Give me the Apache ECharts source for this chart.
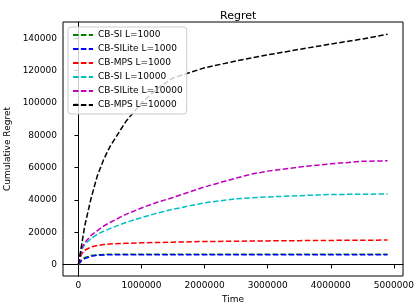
<!DOCTYPE html>
<html>
<head>
<meta charset="utf-8">
<script src="https://cdn.jsdelivr.net/npm/echarts@6/dist/echarts.min.js"></script>
<style>
    html, body {margin: 0; padding: 0; background: #fff;}
    #chart {width: 414px; height: 302px;}
</style>
</head>
<body>
<div id="chart"></div>
<script>
const seriesNames = ['CB-SI L=1000', 'CB-SILite L=1000', 'CB-MPS L=1000',
    'CB-SI L=10000', 'CB-SILite L=10000', 'CB-MPS L=10000'];
const seriesColors = ['#008000', '#0000ff', '#ff0000', '#00bfbf', '#bf00bf', '#000000'];

// time steps
const times = [0, 50000, 100000, 200000, 300000, 400000, 500000, 750000, 1000000, 1250000,
    1500000, 2000000, 2500000, 2750000, 3000000, 3500000, 4000000, 4500000, 4900000];

const siL1000 = [0, 3000, 4300, 5500, 6000, 6200, 6300, 6300, 6300, 6300,
    6300, 6300, 6300, 6300, 6300, 6300, 6300, 6300, 6300];
const siLiteL1000 = [0, 2500, 3600, 5000, 5700, 5900, 6000, 6000, 6000, 6000,
    6000, 6000, 6000, 6000, 6000, 6000, 6000, 6000, 6000];
const mpsL1000 = [0, 6500, 8800, 10800, 11700, 12300, 12700, 13100, 13400, 13600,
    13800, 14200, 14400, 14500, 14600, 14750, 14900, 15000, 15100];
const siL10000 = [0, 9000, 12500, 16000, 18700, 20600, 22200, 26000, 29000, 31800,
    34200, 38200, 40700, 41300, 41800, 42600, 43300, 43500, 43600];
const siLiteL10000 = [0, 10000, 13500, 18000, 21000, 23800, 26000, 31000, 35000, 38500,
    41500, 48000, 53500, 56000, 57800, 60300, 62300, 63900, 64200];
const mpsL10000 = [0, 12000, 24000, 41000, 55000, 65000, 73000, 88500, 100000, 109000,
    115500, 121800, 126000, 128000, 129800, 133200, 136500, 139600, 142600];

const allValues = [siL1000, siLiteL1000, mpsL1000, siL10000, siLiteL10000, mpsL10000];

const xTicks = [0, 1000000, 2000000, 3000000, 4000000, 5000000];
const yTicks = [0, 20000, 40000, 60000, 80000, 100000, 120000, 140000];

const font = 'DejaVu Sans';
const chart = echarts.init(document.getElementById('chart'), null, {renderer: 'canvas'});

chart.setOption({
    animation: false,
    backgroundColor: '#fff',
    title: {
        text: 'Regret',
        left: 215,
        top: 6,
        textStyle: {fontFamily: font, fontSize: 11, fontWeight: 'normal', color: '#000'},
    },
    grid: {
        left: 63,
        right: 11,
        top: 22,
        bottom: 26,
        containLabel: false,
        outerBoundsMode: 'none',
        show: true,
        borderColor: '#000',
        borderWidth: 1,
    },
    legend: {
        orient: 'vertical',
        left: 68,
        top: 27,
        padding: [3, 4, 4, 4],
        itemWidth: 20,
        itemHeight: 10,
        itemGap: 4,
        borderColor: '#ccc',
        borderWidth: 1,
        borderRadius: 3,
        backgroundColor: 'rgba(255,255,255,0.8)',
        itemStyle: {opacity: 0},
        textStyle: {fontFamily: font, fontSize: 9, color: '#000', lineHeight: 10},
        data: seriesNames,
    },
    xAxis: {
        type: 'value',
        min: -245000,
        max: 5145000,
        name: 'Time',
        nameLocation: 'middle',
        nameGap: 18,
        nameTextStyle: {fontFamily: font, fontSize: 9, color: '#000'},
        splitLine: {show: false},
        axisLine: {show: true, lineStyle: {color: '#000', width: 1}},
        axisTick: {show: true, length: 4, customValues: xTicks, lineStyle: {color: '#000'}},
        axisLabel: {
            customValues: xTicks,
            margin: 5,
            fontFamily: font, fontSize: 9, color: '#000',
            formatter: v => String(v),
        },
    },
    yAxis: {
        type: 'value',
        min: -7150,
        max: 150150,
        name: 'Cumulative Regret',
        nameLocation: 'middle',
        nameGap: 45,
        nameTextStyle: {fontFamily: font, fontSize: 9, color: '#000'},
        splitLine: {show: false},
        axisLine: {show: true, lineStyle: {color: '#000', width: 1}},
        axisTick: {show: true, length: 4, customValues: yTicks, lineStyle: {color: '#000'}},
        axisLabel: {
            customValues: yTicks,
            margin: 6,
            fontFamily: font, fontSize: 9, color: '#000',
            formatter: v => String(v),
        },
    },
    series: seriesNames.map((name, i) => ({
        name,
        type: 'line',
        symbol: 'none',
        showSymbol: false,
        smooth: false,
        color: seriesColors[i],
        lineStyle: {color: seriesColors[i], width: 1.5, type: [5.5, 2.4]},
        data: times.map((t, j) => [t, allValues[i][j]]),
    })),
});
</script>
</body>
</html>
